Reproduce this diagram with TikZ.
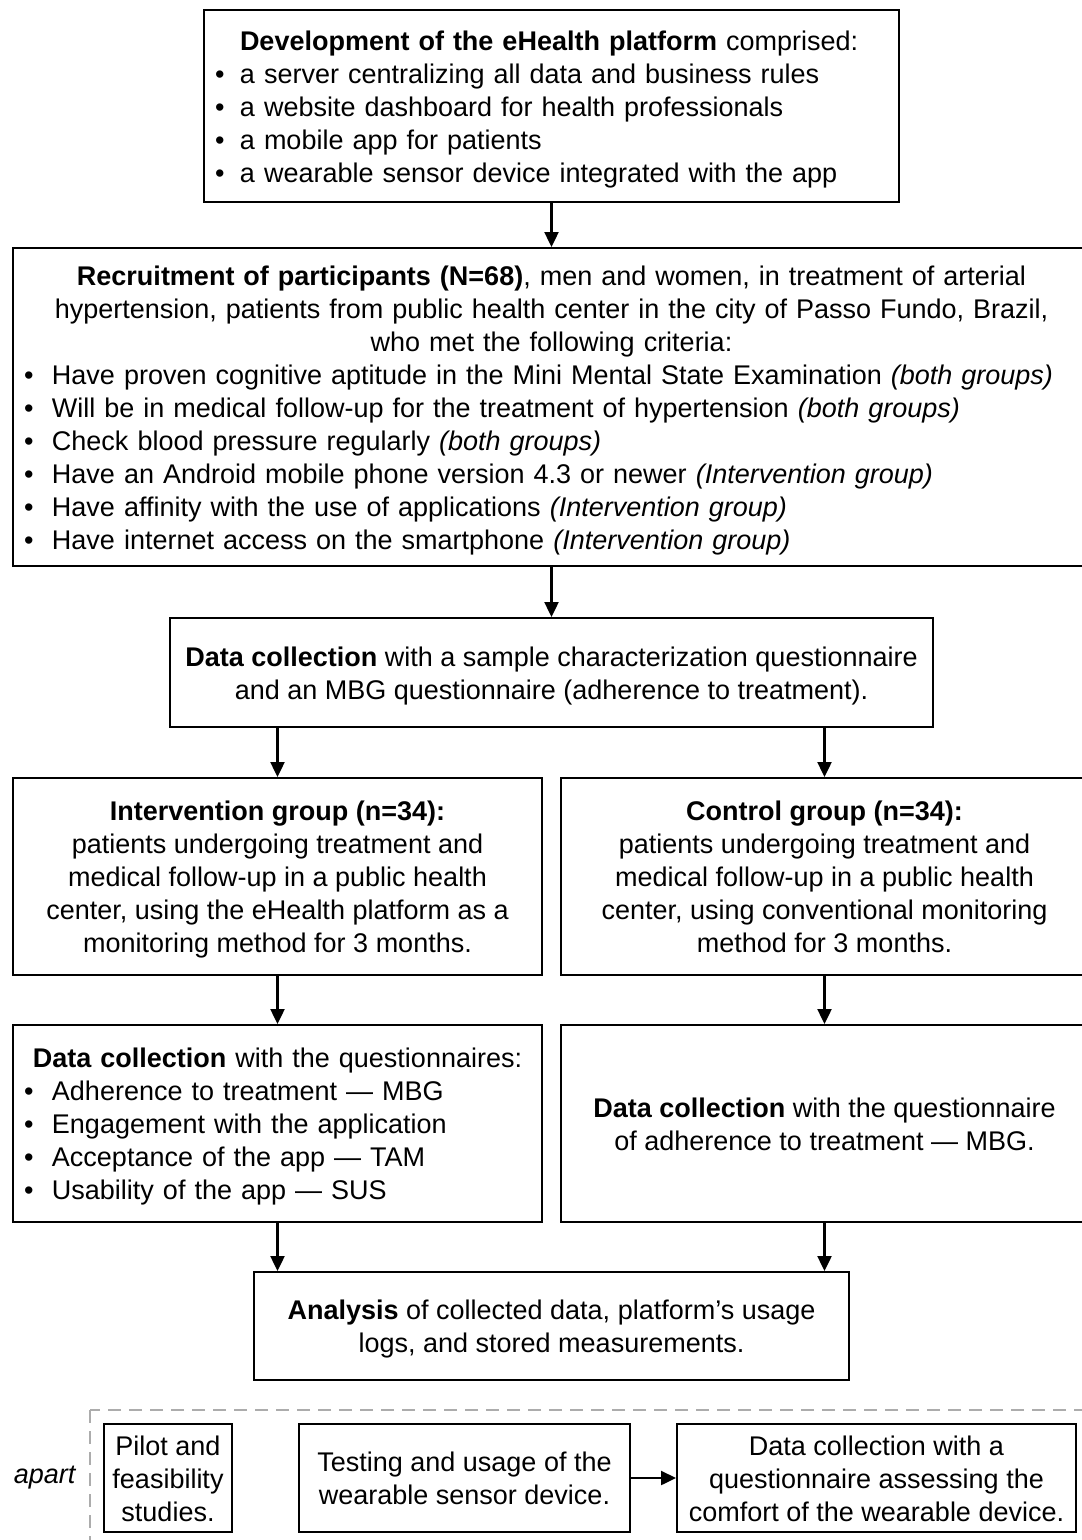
\documentclass[tikz,border=0pt]{standalone}
\usepackage{fontspec}
\setmainfont{Liberation Sans}
\usepackage{tikz}
\usetikzlibrary{arrows.meta,positioning}
\newcommand{\itm}[2][28pt]{\par\noindent\hbox to #1{\textbullet\hfil}#2}
\newcommand{\ts}{\rule{0pt}{26pt}}
\newcommand{\bs}{\rule[-6pt]{0pt}{6pt}}

\begin{document}
\begin{tikzpicture}[x=1pt,y=-1pt,
    box/.style={draw,line width=2pt,inner sep=0pt,align=center},
    listbox/.style={draw,line width=2pt,inner ysep=0pt,inner xsep=11pt},
    arr/.style={line width=2.4pt,-{Triangle[length=15pt,width=14pt]}},
    font=\fontsize{27}{33}\selectfont]
    \clip (0,0) rectangle (1082,1540);
    \node[listbox,text width=673pt,minimum height=192pt] (dev) at (551.5,106) {%
      \noindent\hbox to 25pt{}\ts\textbf{Development of the eHealth platform} comprised:
      \itm[25pt]{a server centralizing all data and business rules}
      \itm[25pt]{a website dashboard for health professionals}
      \itm[25pt]{a mobile app for patients}
      \itm[25pt]{a wearable sensor device integrated with the app\bs}};
    \node[listbox,text width=1055pt,minimum height=318pt] (recruit) at (551.5,407) {%
      {\centering\ts\textbf{Recruitment of participants (N=68)}, men and women, in treatment of arterial\\
      hypertension, patients from public health center in the city of Passo Fundo, Brazil,\\
      who met the following criteria:\par}
      \itm{Have proven cognitive aptitude in the Mini Mental State Examination \textit{(both groups)}}
      \itm{Will be in medical follow-up for the treatment of hypertension \textit{(both groups)}}
      \itm{Check blood pressure regularly \textit{(both groups)}}
      \itm{Have an Android mobile phone version 4.3 or newer \textit{(Intervention group)}}
      \itm{Have affinity with the use of applications \textit{(Intervention group)}}
      \itm{Have internet access on the smartphone \textit{(Intervention group)}\bs}};
    \node[box,minimum width=763pt,minimum height=109pt] (collect) at (551.5,672.5)
      {\ts\textbf{Data collection} with a sample characterization questionnaire\\
       and an MBG questionnaire (adherence to treatment).\bs};
    \node[box,minimum width=529pt,minimum height=197pt] (interv) at (277.5,876.5)
      {\ts\textbf{Intervention group (n=34):}\\ patients undergoing treatment and\\
       medical follow-up in a public health\\ center, using the eHealth platform as a\\
       monitoring method for 3 months.\bs};
    \node[box,minimum width=527pt,minimum height=197pt] (control) at (824.5,876.5)
      {\ts\textbf{Control group (n=34):}\\ patients undergoing treatment and\\
       medical follow-up in a public health\\ center, using conventional monitoring\\
       method for 3 months.\bs};
    \node[listbox,text width=507pt,minimum height=197pt] (quest) at (277.5,1123.5) {%
      {\centering\ts\textbf{Data collection} with the questionnaires:\par}
      \itm{Adherence to treatment --- MBG}
      \itm{Engagement with the application}
      \itm{Acceptance of the app --- TAM}
      \itm{Usability of the app --- SUS\bs}};
    \node[box,minimum width=527pt,minimum height=197pt] (questc) at (824.5,1123.5)
      {\ts\textbf{Data collection} with the questionnaire\\ of adherence to treatment --- MBG.\bs};
    \node[box,minimum width=595pt,minimum height=108pt] (analysis) at (551.5,1326)
      {\ts\textbf{Analysis} of collected data, platform’s usage\\ logs, and stored measurements.\bs};
    \draw[gray!65,line width=2pt,dash pattern=on 13pt off 8pt] (90,1410) rectangle (1100,1560);
    \node (apart) at (45,1478) {\textit{apart}};
    \node[box,minimum width=128pt,minimum height=108pt] (pilot) at (168,1478)
      {\ts Pilot and\\ feasibility\\ studies.\bs};
    \node[box,minimum width=331pt,minimum height=108pt] (testing) at (464.5,1478)
      {\ts Testing and usage of the\\ wearable sensor device.\bs};
    \node[box,minimum width=399pt,minimum height=108pt] (comfort) at (876.5,1478)
      {\ts Data collection with a\\ questionnaire assessing the\\ comfort of the wearable device.\bs};
    \draw[arr] (dev) -- (recruit);
    \draw[arr] (recruit) -- (collect);
    \draw[arr] (collect.south -| interv.north) -- (interv);
    \draw[arr] (collect.south -| control.north) -- (control);
    \draw[arr] (interv) -- (quest);
    \draw[arr] (control) -- (questc);
    \draw[arr] (quest) -- (quest.south |- analysis.north);
    \draw[arr] (questc) -- (questc.south |- analysis.north);
    \draw[arr] (testing) -- (comfort);
\end{tikzpicture}
\end{document}
